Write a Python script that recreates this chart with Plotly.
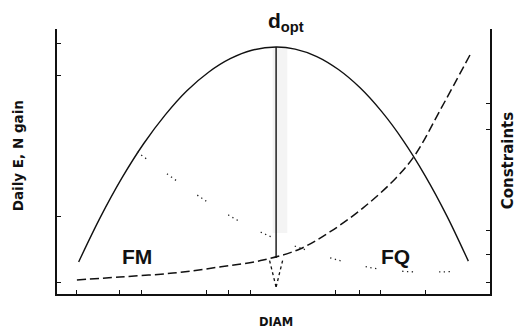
import plotly.graph_objects as go

# ---- data (arbitrary units) ----
diam_gain = [0.5, 1.0, 1.5, 2.0, 2.5, 3.0, 3.5, 4.0, 4.5, 5.06, 5.5, 6.0, 6.5, 7.0, 7.5, 8.0, 8.5, 9.0, 9.5]
daily_gain = [12.1, 28.9, 43.8, 56.7, 67.6, 76.7, 83.7, 88.8, 92.0, 93.2, 92.4, 89.6, 84.7, 77.8, 68.8, 57.8, 44.7, 29.6, 12.4]

diam_fm = [0.46, 1.45, 2.68, 3.76, 4.76, 5.61, 6.30, 7.07, 7.83, 8.27, 8.85, 9.56]
constraint_fm = [5.3, 6.4, 7.9, 10.2, 12.8, 17.0, 23.4, 32.5, 43.8, 52.5, 69.4, 90.9]

diam_fq = [1.85, 3.07, 4.00, 4.80, 5.61, 6.65, 7.46, 8.38, 9.49]
constraint_fq = [53.6, 39.2, 29.4, 22.6, 17.4, 12.1, 9.4, 8.3, 8.7]

d_opt = 5.06
d_opt_top = 93.2
d_opt_solid_end = 13.6
d_opt_tip = 2.6

x_ticks = [0.46, 1.45, 1.96, 3.46, 3.95, 4.46, 6.44, 6.99, 7.46, 8.5]
y_ticks = [4.5, 29.1, 82.3, 94.7, 100]
y2_ticks = [4.5, 15, 24, 62, 72, 100]

FONT = "Liberation Sans, Arial, sans-serif"
WIDE = "DejaVu Sans, Verdana, sans-serif"

fig = go.Figure()

# faint gray band behind the optimum line
fig.add_shape(type="rect", xref="x", yref="y", x0=d_opt - 0.08, x1=d_opt + 0.26,
              y0=23, y1=d_opt_top, fillcolor="rgba(0,0,0,0.045)", line_width=0, layer="below")

fig.add_trace(go.Scatter(x=diam_gain, y=daily_gain, mode="lines", line_shape="spline",
                         line=dict(color="#111", width=1.4), showlegend=False, yaxis="y"))
fig.add_trace(go.Scatter(x=diam_fm, y=constraint_fm, mode="lines", line_shape="spline",
                         line=dict(color="#111", width=1.5, dash="9px,4px"), showlegend=False, yaxis="y2"))
fig.add_trace(go.Scatter(x=diam_fq, y=constraint_fq, mode="lines", line_shape="spline",
                         line=dict(color="#222", width=1.3, dash="1.3px,3.5px,1.3px,3.5px,1.3px,26px"),
                         showlegend=False, yaxis="y2"))

# optimum vertical line with dashed arrow head
fig.add_shape(type="line", xref="x", yref="y", x0=d_opt, x1=d_opt, y0=d_opt_top, y1=d_opt_solid_end,
              line=dict(color="#111", width=1.4))
for dx in (-0.15, 0.15):
    fig.add_shape(type="line", xref="x", yref="y", x0=d_opt + dx, x1=d_opt, y0=d_opt_tip + 10, y1=d_opt_tip,
                  line=dict(color="#111", width=1.3, dash="3px,3px"))

big = dict(family=FONT, size=21, color="#111")
c = dict(showarrow=False, xanchor="center", yanchor="middle")
fig.add_annotation(x=1.85, y=14.3, xref="x", yref="y", text="<b>FM</b>", font=big, **c)
fig.add_annotation(x=7.81, y=14.3, xref="x", yref="y", text="<b>FQ</b>", font=big, **c)
fig.add_annotation(x=0.529, y=1.026, xref="paper", yref="paper", text="<b>d<sub>opt</sub></b>", font=big, **c)
fig.add_annotation(x=-0.09, y=0.52, xref="paper", yref="paper", text="<b>Daily E, N gain</b>", textangle=-90,
                   font=dict(family=WIDE, size=13.5, color="#111"), **c)
fig.add_annotation(x=1.042, y=0.505, xref="paper", yref="paper", text="<b>Constraints</b>", textangle=-90,
                   font=dict(family=WIDE, size=15, color="#111"), **c)
fig.add_annotation(x=0.505, y=-0.106, xref="paper", yref="paper", text="<b>DIAM</b>",
                   font=dict(family=WIDE, size=11.5, color="#111"), **c)

axis_common = dict(showgrid=False, zeroline=False, showline=True, linecolor="#111",
                   ticks="inside", ticklen=4, tickcolor="#111", showticklabels=False)

# page has an 8px body margin: plot area targets page x 57..490, y 29..294
fig.update_layout(
    width=518, height=323,
    margin=dict(l=49, r=36, t=21, b=37),
    paper_bgcolor="white", plot_bgcolor="white",
    xaxis=dict(range=[0, 10], tickvals=x_ticks, linewidth=2.2, **axis_common),
    yaxis=dict(range=[0, 100], tickvals=y_ticks, linewidth=1.5, **axis_common),
    yaxis2=dict(range=[0, 100], tickvals=y2_ticks, linewidth=1.5, overlaying="y", side="right", **axis_common),
)

fig.write_html("out.html")
